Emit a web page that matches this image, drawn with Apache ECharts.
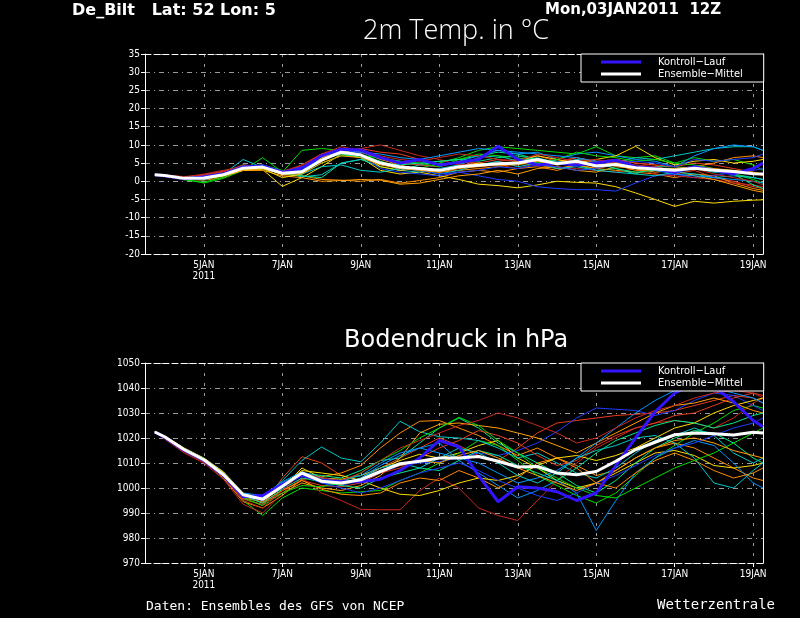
<!DOCTYPE html>
<html>
<head>
<meta charset="utf-8">
<script src="https://cdn.jsdelivr.net/npm/echarts@6/dist/echarts.min.js"></script>
<style>
html,body{margin:0;padding:0;background:#000;}
#chart{width:800px;height:618px;}
</style>
</head>
<body>
<div id="chart"></div>
<script>
// forecast times, day of January 2011 (run 03JAN 12Z)
var times = [3.75,4,4.5,5,5.5,6,6.5,7,7.5,8,8.5,
             9,9.5,10,10.5,11,11.5,12,12.5,13,13.5,14,
             14.5,15,15.5,16,16.5,17,17.5,18,18.5,19,19.25];
var dayTicks = [5,7,9,11,13,15,17,19];

var memberColors = ['#e63c1e','#ff8c00','#ffdc00','#00dc00','#00e68c','#00c8c8','#0096ff','#1e3cff','#c8281e','#ffa000',
                    '#e63c1e','#ff8c00','#ffdc00','#00dc00','#00e68c','#00c8c8','#0096ff','#1e3cff','#c8281e','#ffa000'];

// 2m temperature (°C)
var tempMean = [1.8,1.6,0.8,0.9,1.8,3.6,3.9,2.2,2.6,5.8,8.0,
                7.2,5.0,3.9,3.5,3.0,4.0,4.4,4.8,5.0,6.0,4.8,
                5.5,4.2,4.6,3.7,3.4,3.0,3.6,3.0,2.7,2.1,2.0];
var tempControl = [1.8,1.5,0.7,1.2,2.0,3.9,4.2,2.4,3.5,7.0,8.8,
                   8.6,6.5,5.0,6.0,4.5,5.2,6.0,9.6,6.0,4.5,5.0,
                   4.5,5.0,5.8,4.0,3.5,2.5,4.0,3.0,2.0,3.5,5.0];
var tempMembers = [
  [1.8,1.7,1.0,1.5,2.5,3.8,3.5,2.0,4.5,7.5,8.5, 9.0,8.0,7.5,6.0,4.5,5.0,4.0,5.5,6.0,7.0,5.5, 6.5,5.0,6.0,5.0,4.5,2.0,3.0,1.0,0.0,-1.5,-2.0],
  [1.8,1.4,0.5,0.3,1.0,3.2,3.8,1.8,1.5,0.5,0.3, 0.0,0.5,-0.5,0.2,1.0,2.5,3.0,2.5,3.5,4.0,3.0, 4.5,3.5,3.0,2.5,2.0,1.0,2.0,1.5,-0.5,-2.0,-2.5],
  [1.8,1.6,0.9,1.2,2.0,3.0,3.2,-1.4,1.0,4.0,7.5, 6.5,3.0,2.0,2.5,1.5,0.5,-0.8,-1.2,-1.8,-1.0,0.0, -0.3,-0.5,-1.5,-3.2,-5.0,-6.9,-5.5,-6.0,-5.5,-5.2,-5.1],
  [1.8,1.5,0.6,-0.5,0.8,3.0,6.5,2.5,8.5,9.0,8.5, 7.5,5.5,4.0,3.5,5.0,6.5,8.5,9.5,9.0,8.5,8.0, 7.5,9.5,7.0,6.5,7.0,5.0,6.5,5.5,6.0,4.5,3.0],
  [1.8,1.6,0.9,1.5,2.2,4.5,3.5,2.0,1.5,1.0,5.0, 6.0,4.0,3.0,4.5,5.5,6.0,7.0,8.0,7.5,6.0,5.5, 4.5,3.0,3.5,2.0,4.0,4.0,3.5,2.5,2.0,1.0,0.5],
  [1.8,1.5,0.8,1.0,2.0,6.0,3.8,2.5,1.2,1.8,5.0, 6.0,5.5,3.0,2.5,3.5,4.5,6.5,7.0,5.5,6.5,5.0, 6.0,5.5,5.0,6.5,6.0,7.0,8.0,9.0,9.5,9.5,8.5],
  [1.8,1.7,1.0,1.8,2.5,4.2,4.0,2.8,3.0,6.5,8.5, 8.0,6.0,5.5,4.5,4.0,5.5,7.0,8.5,7.5,8.0,6.0, 7.5,8.0,7.0,6.0,5.5,4.0,7.0,9.0,10.0,9.5,8.5],
  [1.8,1.5,0.5,1.0,1.5,3.5,4.0,2.0,3.0,6.0,8.5, 7.0,3.5,2.5,2.0,1.5,2.5,1.5,0.5,0.0,-1.5,-2.0, -2.3,-2.3,-2.7,-0.5,1.5,2.0,1.0,1.5,2.5,3.0,3.5],
  [1.8,1.6,1.1,2.0,3.0,4.0,3.5,2.5,3.5,6.5,7.5, 9.0,10.0,8.5,7.0,6.0,4.5,5.0,4.5,3.5,5.0,4.0, 3.5,3.0,2.5,3.5,2.0,1.5,1.0,0.5,-0.5,-1.0,-1.5],
  [1.8,1.6,0.8,0.5,1.5,3.0,3.0,1.5,1.0,0.0,0.2, 0.5,0.3,-0.8,-0.5,0.5,1.5,2.0,3.0,2.0,3.5,4.0, 3.0,2.5,4.0,3.5,2.5,3.0,1.5,0.5,-1.0,-2.5,-3.0],
  [1.8,1.7,1.2,1.6,2.8,4.0,4.2,2.6,4.0,7.5,9.0, 8.0,6.5,5.0,4.5,4.0,5.5,5.0,6.0,5.5,5.5,5.0, 6.5,5.5,6.0,5.0,4.5,4.0,5.0,4.5,3.5,2.5,1.5],
  [1.8,1.6,0.9,0.8,2.0,3.5,3.8,2.0,2.5,5.5,8.0, 8.5,6.0,4.5,3.0,2.5,3.0,3.5,4.0,5.0,4.5,3.5, 4.5,3.5,4.5,3.0,3.0,2.5,4.0,5.0,6.5,7.0,6.5],
  [1.8,1.5,0.7,0.6,1.5,3.0,3.5,1.0,2.0,6.5,8.5, 7.5,4.0,3.0,3.5,3.0,4.0,5.0,4.5,5.5,7.0,6.0, 5.0,6.0,7.0,9.6,6.5,4.5,5.5,6.0,5.0,5.5,6.0],
  [1.8,1.4,0.4,-0.3,1.2,4.0,4.5,3.0,2.0,5.0,7.0, 7.0,6.5,5.5,5.0,4.0,6.0,7.5,7.0,6.5,5.0,6.0, 8.0,7.0,6.5,5.5,6.0,5.0,4.5,3.5,2.0,0.5,-0.5],
  [1.8,1.7,1.1,1.3,2.3,4.0,4.0,2.3,3.0,6.0,7.5, 6.5,5.0,4.5,5.0,5.5,6.0,5.5,6.5,7.0,6.0,5.5, 4.5,5.0,3.5,2.5,3.0,2.5,3.5,3.0,2.0,-1.0,-2.0],
  [1.8,1.6,0.8,1.0,1.8,3.5,4.0,2.5,2.0,4.0,4.5, 3.0,2.5,3.5,3.0,2.0,3.0,4.5,5.5,4.0,5.0,3.5, 4.0,3.0,2.5,2.0,1.5,2.5,2.0,1.0,1.5,1.0,0.5],
  [1.8,1.5,0.6,0.4,1.8,4.4,4.3,2.2,3.5,7.0,8.5, 8.0,7.5,6.5,6.0,7.0,8.0,9.0,8.5,8.0,7.5,7.0, 6.5,5.5,5.0,4.0,3.0,2.0,1.5,1.0,0.5,0.0,-0.5],
  [1.8,1.6,0.9,1.4,2.4,3.8,4.5,2.8,4.0,7.0,9.0, 7.5,5.0,3.5,3.0,2.0,2.5,3.0,4.0,3.5,4.5,4.0, 3.0,3.5,5.0,5.5,5.0,4.0,6.0,5.5,6.0,6.5,7.5],
  [1.8,1.7,1.3,1.8,2.6,4.5,4.0,2.7,4.5,7.5,9.5, 8.5,7.0,6.0,5.5,6.5,7.5,7.0,6.0,5.5,7.5,6.5, 5.5,6.0,5.0,4.5,4.0,3.0,3.5,2.0,1.0,0.0,-1.0],
  [1.8,1.5,0.7,0.7,1.6,3.0,3.6,2.0,2.0,5.0,7.0, 6.5,4.5,3.5,3.0,2.5,3.5,4.0,4.5,4.5,5.5,4.5, 5.0,4.5,5.0,4.0,3.5,3.5,4.0,3.5,3.0,2.5,2.0]
];

// surface pressure (hPa)
var presMean = [1022.4,1020.5,1015.3,1011.3,1005.3,997.3,995.5,1000.7,1006,1002.7,1002,
                1003.3,1006.6,1009.7,1010.7,1012,1012,1012.6,1010.7,1008.4,1008.6,1006,
                1005.3,1006.6,1010.7,1015.3,1018.3,1021.3,1022,1021.7,1021.2,1022.3,1022];
var presControl = [1022.4,1020.3,1015.0,1011.0,1005.0,996.5,997.0,1001.5,1005.0,1003.0,1002.5,
                   1002.5,1003.5,1007.0,1012.0,1019.0,1016.5,1005.0,994.5,1000.5,1000.0,998.5,
                   995.0,998.0,1009.0,1020.0,1030.5,1038.0,1041.5,1040.5,1034.5,1027.0,1024.5];
var presMembers = [
  [1022.3,1019.8,1014.5,1010.5,1004.5,996.0,993.0,1004.0,1012.5,1010.0,1005.0, 1003.0,1008.0,1012.0,1016.0,1020.0,1017.0,1013.0,1011.0,1016.0,1022.0,1026.0, 1027.0,1028.0,1029.0,1029.5,1030.0,1031.0,1033.0,1035.0,1037.0,1036.0,1034.0],
  [1022.4,1020.2,1015.0,1010.8,1004.0,994.5,992.0,997.0,1003.5,1004.5,1006.0, 1009.0,1016.0,1022.0,1026.7,1027.0,1024.0,1021.0,1017.0,1013.0,1016.0,1012.0, 1009.0,1005.0,1007.0,1012.0,1016.0,1018.0,1016.0,1012.0,1008.0,1004.0,1003.0],
  [1022.5,1020.8,1016.0,1012.0,1006.5,998.0,995.0,1000.0,1008.0,1004.0,1003.5, 1005.0,1008.0,1011.0,1013.5,1012.0,1014.0,1017.0,1019.0,1012.0,1008.0,1003.0, 1000.0,1002.0,1006.0,1010.0,1014.0,1015.0,1013.0,1009.0,1008.0,1009.0,1010.0],
  [1022.4,1020.3,1015.5,1011.5,1006.0,995.0,989.0,996.0,1000.0,999.0,998.0, 998.5,999.0,1003.0,1006.0,1010.0,1014.0,1019.0,1017.0,1011.0,1005.0,1001.0, 997.0,994.0,998.0,1005.0,1012.0,1017.0,1022.0,1026.0,1031.0,1033.0,1032.0],
  [1022.4,1020.6,1015.8,1011.8,1006.2,997.0,996.0,1002.0,1006.0,1005.0,1004.0, 1007.0,1011.0,1012.0,1018.0,1024.0,1028.0,1024.0,1018.0,1014.0,1010.0,1006.0, 1001.0,998.0,1003.0,1010.0,1016.0,1020.0,1023.0,1022.0,1018.0,1012.0,1010.0],
  [1022.4,1020.4,1015.3,1011.2,1005.5,996.5,996.0,1003.0,1011.0,1016.4,1012.0, 1010.5,1018.0,1026.7,1022.5,1020.5,1020.0,1019.0,1016.0,1012.0,1014.0,1010.0, 1006.0,1004.0,1008.0,1014.0,1019.0,1021.0,1024.0,1021.0,1014.0,1010.0,1012.0],
  [1022.4,1020.1,1015.0,1011.0,1005.5,997.5,996.5,1002.0,1005.5,1003.0,1001.0, 1004.0,1009.0,1013.0,1016.0,1018.0,1011.0,1006.0,1001.0,996.0,999.0,1003.0, 998.0,983.0,995.0,1006.0,1012.0,1016.0,1019.0,1017.0,1010.0,1002.0,1000.0],
  [1022.4,1020.5,1015.6,1011.6,1005.8,997.5,995.5,1000.0,1005.0,1002.0,1001.0, 1003.0,1006.0,1009.0,1010.0,1010.5,1012.0,1014.0,1013.0,1015.0,1018.0,1022.6, 1028.0,1032.0,1031.5,1031.0,1029.0,1031.0,1035.0,1038.0,1037.0,1033.0,1031.0],
  [1022.3,1019.6,1014.0,1010.0,1003.5,993.5,990.0,998.0,1004.0,998.0,995.0, 991.5,991.3,991.3,999.0,1004.0,1000.0,992.0,989.0,987.0,995.0,1003.0, 1010.0,1016.0,1020.0,1024.0,1026.0,1027.0,1026.0,1024.0,1028.0,1034.0,1036.0],
  [1022.4,1020.4,1015.4,1011.4,1006.0,997.0,994.0,998.0,1002.0,1000.0,999.0, 1001.0,1005.0,1012.0,1022.0,1025.5,1026.0,1025.0,1024.0,1022.0,1020.0,1017.0, 1014.0,1018.0,1022.0,1026.0,1030.0,1033.0,1034.0,1036.0,1034.0,1031.0,1030.0],
  [1022.4,1020.0,1014.8,1010.6,1004.8,995.5,993.5,999.0,1003.0,1001.0,1000.5, 1002.0,1006.0,1008.0,1012.0,1016.0,1019.0,1023.0,1021.0,1018.0,1013.0,1009.0, 1011.0,1017.0,1021.0,1024.0,1026.0,1029.0,1030.0,1033.0,1036.0,1038.0,1037.0],
  [1022.4,1020.3,1015.2,1011.0,1005.0,996.0,994.5,999.0,1003.0,999.5,997.5, 997.0,998.0,1002.0,1004.0,1003.0,1007.0,1004.0,1000.0,1004.0,1010.0,1012.0, 1008.0,1002.0,1000.0,1006.0,1011.0,1014.0,1011.0,1007.0,1004.0,1006.0,1008.0],
  [1022.5,1020.7,1015.8,1011.8,1006.3,997.5,996.5,1001.0,1007.0,1006.0,1005.0, 1003.0,1000.0,997.5,997.0,999.0,1002.0,1004.0,1003.0,1005.0,1009.0,1012.0, 1013.0,1011.0,1013.0,1016.0,1020.0,1024.0,1026.0,1030.0,1033.0,1035.0,1036.0],
  [1022.4,1020.2,1015.2,1011.0,1005.2,996.0,993.0,998.0,1001.0,1000.5,1002.0, 1006.0,1011.0,1015.0,1020.0,1024.0,1028.3,1025.0,1019.0,1014.0,1008.0,1004.0, 1000.0,997.0,996.0,1000.0,1004.0,1008.0,1011.0,1014.0,1018.0,1022.0,1024.0],
  [1022.4,1020.5,1015.5,1011.4,1005.6,996.8,994.0,999.5,1004.0,1002.5,1001.0, 1000.0,1004.0,1006.0,1008.0,1007.0,1011.0,1015.0,1013.0,1009.0,1006.0,1003.0, 1008.0,1014.0,1019.0,1022.0,1025.0,1027.0,1026.0,1024.0,1026.0,1029.0,1030.0],
  [1022.4,1020.4,1015.4,1011.2,1005.3,997.0,995.5,1001.0,1006.0,1003.5,1002.0, 1004.0,1008.0,1010.0,1008.0,1012.0,1016.0,1014.0,1010.0,1005.0,1002.0,1006.0, 1012.0,1015.0,1017.0,1020.0,1021.0,1018.0,1012.0,1002.0,1000.0,1007.0,1010.0],
  [1022.4,1020.6,1015.7,1011.7,1006.0,998.0,997.0,1002.5,1006.5,1004.0,1003.0, 1005.0,1010.0,1014.0,1016.0,1014.0,1012.0,1010.0,1006.0,1002.0,1004.0,1007.0, 1012.0,1018.0,1024.0,1030.0,1035.0,1039.0,1041.0,1040.0,1038.0,1036.0,1034.0],
  [1022.4,1020.2,1015.1,1011.1,1005.4,996.8,995.0,1001.5,1005.5,1002.0,1000.0, 998.0,1000.0,1003.0,1006.0,1008.0,1010.0,1007.0,1003.0,1000.0,997.0,995.0, 998.0,1002.0,1005.0,1009.0,1013.0,1016.0,1018.0,1021.0,1024.0,1026.0,1028.0],
  [1022.3,1019.8,1014.6,1010.4,1004.6,995.0,992.0,999.0,1006.0,1004.0,1003.0, 1006.0,1011.0,1016.0,1019.0,1022.0,1025.0,1027.0,1030.0,1028.0,1025.0,1022.0, 1018.0,1020.0,1024.0,1028.0,1031.0,1033.0,1036.0,1038.0,1039.0,1038.0,1036.0],
  [1022.4,1020.3,1015.3,1011.3,1005.6,997.0,995.5,1000.5,1005.5,1002.5,1001.5, 1003.0,1007.0,1009.0,1011.0,1010.0,1013.0,1015.0,1012.0,1008.0,1005.0,1002.0, 999.0,1002.0,1007.0,1012.0,1016.0,1019.0,1020.0,1018.0,1015.0,1013.0,1012.0]
];

var FONT = "'DejaVu Sans Condensed','Liberation Sans Narrow','DejaVu Sans',sans-serif";
var CTRL = 'Kontroll\u2212Lauf';
var MEAN = 'Ensemble\u2212Mittel';

function pairs(vals) {
  return times.map(function (t, i) { return [t, vals[i]]; });
}

function line(name, vals, axis, color, width, z) {
  return {
    name: name, type: 'line', xAxisIndex: axis, yAxisIndex: axis,
    data: pairs(vals), symbol: 'none', showSymbol: false, silent: true,
    lineStyle: { color: color, width: width }, itemStyle: { color: color },
    z: z, animation: false
  };
}

var series = [];
tempMembers.forEach(function (m, i) { series.push(line('m' + (i + 1), m, 0, memberColors[i], 1, 2)); });
series.push(line(CTRL, tempControl, 0, '#3214ff', 3, 3));
series.push(line(MEAN, tempMean, 0, '#ffffff', 3, 4));
presMembers.forEach(function (m, i) { series.push(line('m' + (i + 1), m, 2, memberColors[i], 1, 2)); });
series.push(line(CTRL, presControl, 2, '#3214ff', 3, 3));
series.push(line(MEAN, presMean, 2, '#ffffff', 3, 4));

function bottomX(grid) {
  return {
    type: 'value', gridIndex: grid, min: 3.5, max: 19.25, position: 'bottom',
    axisLine: { show: true, onZero: false, lineStyle: { color: '#fff', width: 1, type: [6, 3] } },
    axisTick: { show: true, customValues: dayTicks, length: 4, lineStyle: { color: '#fff' } },
    axisLabel: {
      customValues: dayTicks, color: '#fff', fontFamily: FONT, fontSize: 10, margin: 6, lineHeight: 11,
      formatter: function (v) { return v === 5 ? '5JAN\n2011' : v + 'JAN'; }
    },
    splitLine: { show: true, lineStyle: { color: '#9a9a9a', width: 1, type: [3, 7] } }
  };
}
function topX(grid) {
  return {
    type: 'value', gridIndex: grid, min: 3.5, max: 19.25, position: 'top',
    axisLine: { show: true, onZero: false, lineStyle: { color: '#fff', width: 1, type: [6, 3] } },
    axisTick: { show: false }, axisLabel: { show: false }, splitLine: { show: false }
  };
}
function leftY(grid, min, max, step) {
  return {
    type: 'value', gridIndex: grid, min: min, max: max, interval: step, position: 'left',
    axisLine: { show: true, onZero: false, lineStyle: { color: '#fff', width: 1 } },
    axisTick: { show: true, length: 4, lineStyle: { color: '#fff' } },
    axisLabel: { color: '#fff', fontFamily: FONT, fontSize: 10, margin: 5,
      formatter: function (v) { return String(v); } },
    splitLine: { show: true, lineStyle: { color: '#9a9a9a', width: 1, type: [5, 4, 1, 4] } }
  };
}
function rightY(grid, min, max) {
  return {
    type: 'value', gridIndex: grid, min: min, max: max, position: 'right',
    axisLine: { show: true, onZero: false, lineStyle: { color: '#fff', width: 1 } },
    axisTick: { show: false }, axisLabel: { show: false }, splitLine: { show: false }
  };
}
function legendAt(top) {
  return {
    data: [
      { name: CTRL, icon: 'rect', itemStyle: { color: '#3214ff' } },
      { name: MEAN, icon: 'rect', itemStyle: { color: '#ffffff' } }
    ],
    orient: 'vertical', left: 581, top: top,
    backgroundColor: '#000', borderColor: '#fff', borderWidth: 1, borderRadius: 0,
    padding: [2, 21, 2, 20], itemGap: 0, itemWidth: 40, itemHeight: 3,
    selectedMode: false, z: 10,
    textStyle: { color: '#fff', fontFamily: FONT, fontSize: 11, lineHeight: 12, padding: [0, 0, 0, 12] }
  };
}

var myChart = echarts.init(document.getElementById('chart'), null, { renderer: 'canvas' });
var option = {
  backgroundColor: '#000',
  animation: false,
  grid: [
    { left: 145, top: 54, width: 618, height: 200 },
    { left: 145, top: 363, width: 618, height: 200 }
  ],
  xAxis: [bottomX(0), topX(0), bottomX(1), topX(1)],
  yAxis: [leftY(0, -20, 35, 5), rightY(0, -20, 35), leftY(1, 970, 1050, 10), rightY(1, 970, 1050)],
  legend: [legendAt(54), legendAt(363)],
  graphic: [
    { type: 'text', left: 72, top: 3, style: { text: 'De_Bilt   Lat: 52 Lon: 5', fill: '#fff', font: "bold 16px 'DejaVu Sans',sans-serif" } },
    { type: 'text', left: 545, top: 3, style: { text: 'Mon,03JAN2011  12Z', fill: '#fff', font: "bold 15px 'DejaVu Sans',sans-serif" } },
    { type: 'text', left: 363, top: 18, style: { text: '2m Temp. in \u00b0C', fill: '#fff', font: "300 27px 'Open Sans','DejaVu Sans',sans-serif" } },
    { type: 'text', left: 344, top: 329, style: { text: 'Bodendruck in hPa', fill: '#fff', font: "24px 'DejaVu Sans','Open Sans',sans-serif" } },
    { type: 'text', left: 146, top: 600, style: { text: 'Daten: Ensembles des GFS von NCEP', fill: '#fff', font: "13px 'DejaVu Sans Mono',monospace" } },
    { type: 'text', right: 25, top: 598, style: { text: 'Wetterzentrale', fill: '#fff', font: "14px 'DejaVu Sans Mono',monospace" } }
  ],
  series: series
};
myChart.setOption(option);
</script>
</body>
</html>
